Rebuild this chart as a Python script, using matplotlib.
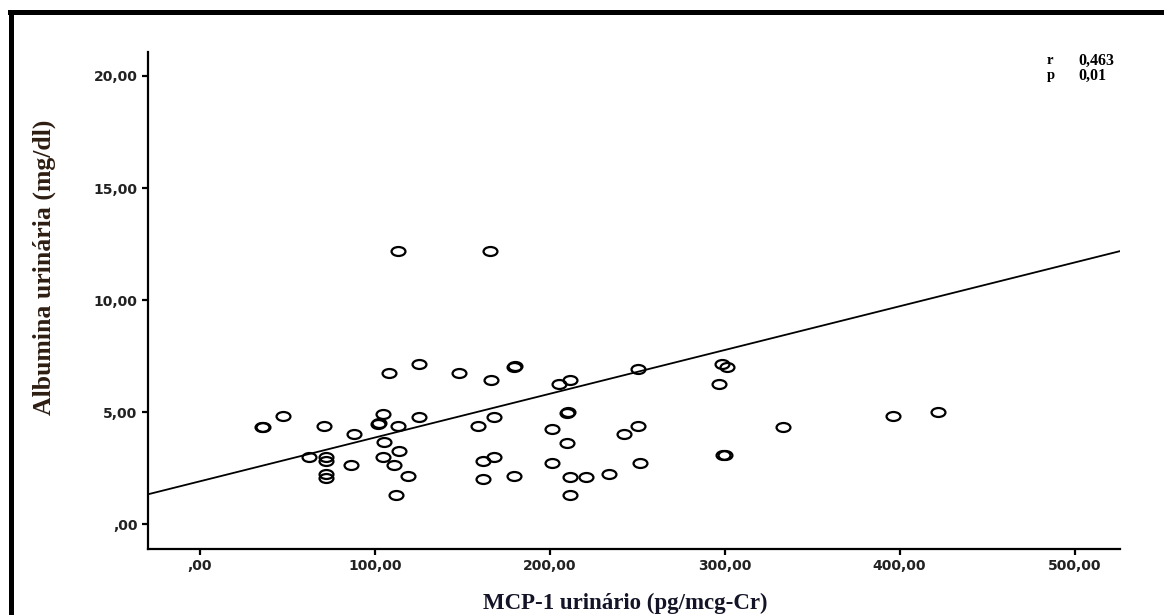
import matplotlib
matplotlib.use("Agg")
import matplotlib.pyplot as plt
from matplotlib.path import Path
from matplotlib.patches import Rectangle
from matplotlib.ticker import FuncFormatter
import numpy as np

# MCP-1 urinario (pg/mcg-Cr) vs albumina urinaria (mg/dl)
mcp1 = [113.3, 166.1,
        108.1, 125.5, 148.0, 166.3, 179.6, 180.4,
        35.7, 36.2, 47.7, 71.1, 88.3, 62.5, 71.9, 71.9, 71.9, 71.9, 86.4,
        104.9, 101.6, 102.4, 113.3, 125.3, 105.5, 114.0, 104.5, 111.0, 119.2, 111.8,
        158.7, 168.2, 162.1, 168.2, 162.1, 179.6,
        205.4, 211.7, 250.2, 298.4, 301.3, 296.7,
        209.8, 210.3, 201.2, 209.8, 242.2, 250.4, 201.2, 211.7, 220.8, 234.0,
        251.3, 211.3, 299.0, 300.2, 333.5, 396.3, 421.8]
albumina = [12.19, 12.19,
            6.73, 7.14, 6.73, 6.43, 7.00, 7.05,
            4.32, 4.36, 4.85, 4.39, 4.05, 3.00, 3.00, 2.81, 2.26, 2.07, 2.66,
            4.94, 4.49, 4.52, 4.37, 4.79, 3.68, 3.26, 3.00, 2.66, 2.14, 1.29,
            4.39, 4.79, 2.81, 3.00, 2.04, 2.14,
            6.25, 6.43, 6.95, 7.14, 7.00, 6.25,
            4.97, 5.00, 4.24, 3.65, 4.02, 4.38, 2.75, 2.11, 2.11, 2.23,
            2.75, 1.29, 3.08, 3.08, 4.35, 4.85, 5.00]

# fitted line shown on the chart
fit_intercept = 1.92
fit_slope = 0.01952
r_text = "0,463"
p_text = "0,01"

xticks = [0, 100, 200, 300, 400, 500]
yticks = [0, 5, 10, 15, 20]


def comma_fmt(v, pos=None):
    s = f"{v:.2f}".replace(".", ",")
    if s.startswith("0,"):
        s = s[1:]       # SPSS style ",00"
    return s


W, H = 1164, 615
fig = plt.figure(figsize=(W / 100, H / 100), dpi=100)
ax = fig.add_axes([148 / W, 1 - 549 / H, (1120 - 148) / W, (549 - 52) / H])

# open, slightly wide circles
ell = Path.unit_circle().transformed(matplotlib.transforms.Affine2D().scale(1.55, 1.0))
ax.plot(mcp1, albumina, linestyle="none", marker=ell, markersize=10,
        markerfacecolor="none", markeredgecolor="black", markeredgewidth=1.6)

ax.set_xlim(-29.7, 526)
ax.set_ylim(-1.1, 21.07)

xs = np.array(ax.get_xlim())
ax.plot(xs, fit_intercept + fit_slope * xs, color="black", linewidth=1.3)

ax.spines["top"].set_visible(False)
ax.spines["right"].set_visible(False)
for s in ["left", "bottom"]:
    ax.spines[s].set_linewidth(1.6)

ax.set_xticks(xticks)
ax.set_yticks(yticks)
ax.xaxis.set_major_formatter(FuncFormatter(comma_fmt))
ax.yaxis.set_major_formatter(FuncFormatter(comma_fmt))
ax.tick_params(length=4.5, width=1.6, pad=3)
for lab in ax.get_xticklabels() + ax.get_yticklabels():
    lab.set_family("DejaVu Sans")
    lab.set_weight("bold")
    lab.set_fontsize(10)
    lab.set_color("#222222")

fig.text(625 / W, 1 - 603 / H, "MCP-1 urinário (pg/mcg-Cr)", ha="center", va="center",
         family="Liberation Serif", weight="bold", fontsize=16.5, color="#141428")
fig.text(44 / W, 1 - 267 / H, "Albumina urinária (mg/dl)", ha="center", va="center",
         rotation=90, family="Liberation Serif", weight="bold", fontsize=18.5, color="#2e1e12")

# r / p box at top right
for yy, name, val in [(61, "r", r_text), (76, "p", p_text)]:
    fig.text(1047 / W, 1 - yy / H, name, ha="left", va="center",
             family="Liberation Serif", weight="bold", fontsize=10.5)
    fig.text(1078 / W, 1 - yy / H, val, ha="left", va="center",
             family="Liberation Serif", weight="bold", fontsize=11.5)

# thick frame on the top and left edges
fig.add_artist(Rectangle((8 / W, 1 - 15 / H), 1 - 8 / W, 5 / H,
                         transform=fig.transFigure, color="black", lw=0))
fig.add_artist(Rectangle((9 / W, 0), 5 / W, 1 - 10 / H,
                         transform=fig.transFigure, color="black", lw=0))

fig.savefig("out.png", dpi=100)
